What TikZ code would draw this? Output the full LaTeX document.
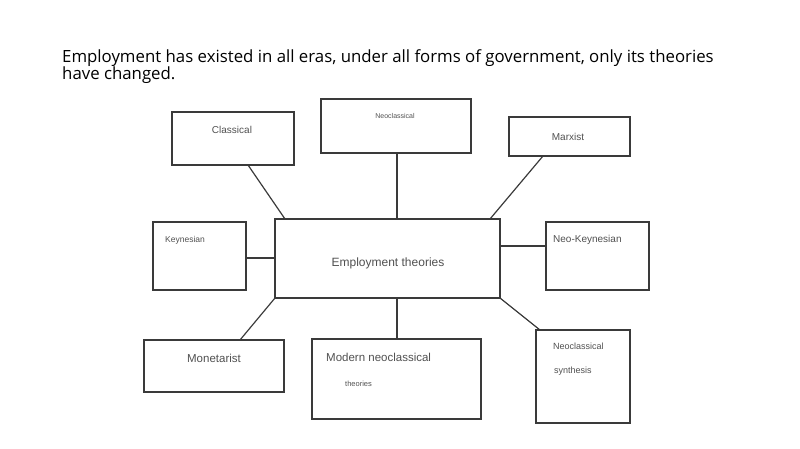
\documentclass[tikz,border=0pt]{standalone}
\usepackage{fontspec}
\setmainfont{Liberation Sans}
\newfontfamily\titlefont{Open Sans}
\definecolor{boxline}{HTML}{3A3A3A}
\definecolor{boxtext}{HTML}{505050}
\begin{document}
\begin{tikzpicture}[x=1pt,y=-1pt,
  box/.style={draw=boxline,line width=1.25pt},
  conn/.style={draw=boxline,line width=1.2pt},
  lbl/.style={text=boxtext,inner sep=0pt,font=\fontsize{10}{12}\selectfont}]
\useasboundingbox (0,0) rectangle (800,449);
\node[anchor=base west,inner sep=0pt,align=left,font=\titlefont\fontsize{16.8}{17.3}\selectfont] (title) at (62,80)
  {Employment has existed in all eras, under all forms of government, only its theories\\have changed.};
% boxes
\path[box] (172,112) rectangle (294,165);
\path[box] (321,99) rectangle (471,153);
\path[box] (509,117) rectangle (630,156);
\path[box] (153,222) rectangle (246,290);
\path[box] (275,219) rectangle (500,298);
\path[box] (546,222) rectangle (649,290);
\path[box] (144,340) rectangle (284,392);
\path[box] (312,339) rectangle (481,419);
\path[box] (536,330) rectangle (630,423);
% labels
\node[lbl,font=\fontsize{10}{12}\selectfont] (classical) at (232,130) {Classical};
\node[lbl,font=\fontsize{7}{9}\selectfont] (neoclassical) at (395,116) {Neoclassical};
\node[lbl] (marxist) at (568,137) {Marxist};
\node[lbl,font=\fontsize{8.5}{10}\selectfont,anchor=west] (keynesian) at (165,240) {Keynesian};
\node[lbl,font=\fontsize{12}{14}\selectfont] (central) at (388,263) {Employment theories};
\node[lbl,anchor=west] (neokeyn) at (553,240) {Neo-Keynesian};
\node[lbl,font=\fontsize{11.5}{14}\selectfont] (monetarist) at (214,358) {Monetarist};
\node[lbl,font=\fontsize{11.5}{14}\selectfont,anchor=west] (modern) at (326,357) {Modern neoclassical};
\node[lbl,font=\fontsize{7.5}{9}\selectfont,anchor=west] (theories) at (345,384) {theories};
\node[lbl,font=\fontsize{9}{11}\selectfont,anchor=west] (nsyn1) at (553,346) {Neoclassical};
\node[lbl,font=\fontsize{9}{11}\selectfont,anchor=west] (nsyn2) at (554,371) {synthesis};
% connector endpoints
\coordinate (c1a) at (248,165); \coordinate (c1b) at (285,219);
\coordinate (c2a) at (397,153); \coordinate (c2b) at (397,219);
\coordinate (c3a) at (543,156); \coordinate (c3b) at (490,219);
\coordinate (c4a) at (246,258); \coordinate (c4b) at (275,258);
\coordinate (c5a) at (500,246); \coordinate (c5b) at (546,246);
\coordinate (c6a) at (275,298); \coordinate (c6b) at (240,340);
\coordinate (c7a) at (397,298); \coordinate (c7b) at (397,339);
\coordinate (c8a) at (500,298); \coordinate (c8b) at (540,330);
\draw[conn] (c1a) -- (c1b);
\draw[conn] (c2a) -- (c2b);
\draw[conn] (c3a) -- (c3b);
\draw[conn] (c4a) -- (c4b);
\draw[conn] (c5a) -- (c5b);
\draw[conn] (c6a) -- (c6b);
\draw[conn] (c7a) -- (c7b);
\draw[conn] (c8a) -- (c8b);
\end{tikzpicture}
\end{document}
